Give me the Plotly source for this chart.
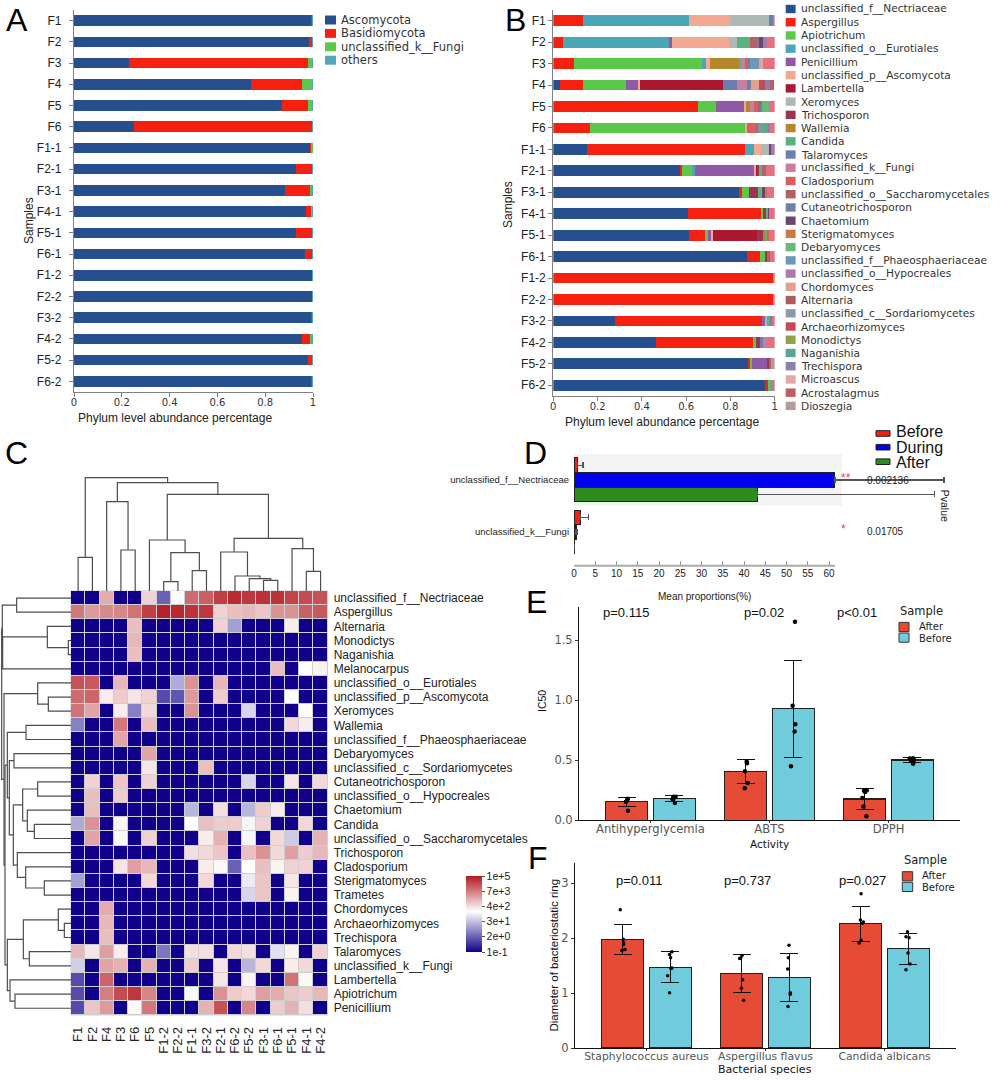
import plotly.graph_objects as go

W, H = 1004, 1080
SANS = "Liberation Sans"
WIDE = "DejaVu Sans"

# ---------- Panels A / B data ----------
SAMPLES = ["F1","F2","F3","F4","F5","F6","F1-1","F2-1","F3-1","F4-1","F5-1","F6-1","F1-2","F2-2","F3-2","F4-2","F5-2","F6-2"]

PHYLUM_NAMES = ["Ascomycota","Basidiomycota","unclassified_k__Fungi","others"]
PHYLUM_COLORS = ["#264f8e","#f5200f","#5ec84c","#4fa8b8"]
ascomycota = [.995,.982,.231,.74,.87,.253,.988,.93,.884,.97,.928,.965,.998,.998,.99,.952,.979,.992]
basidiomycota = [.004,.015,.746,.213,.11,.745,.006,.066,.107,.024,.068,.032,.001,.001,.009,.037,.019,.007]
unclass_fungi = [0,.002,.02,.045,.017,.001,.006,.003,.003,.005,.003,.001,0,0,0,.002,0,0]
phylum_others = [.001,.001,.003,.002,.003,.001,0,.001,.006,.001,.001,.002,.001,.001,.001,.009,.002,.001]
PHYLUM_VALUES = [ascomycota, basidiomycota, unclass_fungi, phylum_others]

GENUS_NAMES = ["unclassified_f__Nectriaceae","Aspergillus","Apiotrichum","unclassified_o__Eurotiales","Penicillium",
    "unclassified_p__Ascomycota","Lambertella","Xeromyces","Trichosporon","Wallemia","Candida","Talaromyces",
    "unclassified_k__Fungi","Cladosporium","unclassified_o__Saccharomycetales","Cutaneotrichosporon","Chaetomium",
    "Sterigmatomyces","Debaryomyces","unclassified_f__Phaeosphaeriaceae","unclassified_o__Hypocreales","Chordomyces",
    "Alternaria","unclassified_c__Sordariomycetes","Archaeorhizomyces","Monodictys","Naganishia","Trechispora",
    "Microascus","Acrostalagmus","Dioszegia"]
GENUS_COLORS = ["#264f8e","#f5200f","#5cc84a","#4ba7b7","#8f5aa5","#f2a98f","#ac1830","#aeb8b4","#9c3350","#b5862c",
    "#5ab27f","#6a7fb0","#c87f9f","#d8605a","#b56068","#6f80a8","#6c4470","#c87a48","#6ab878","#6a9ab8","#ab7aa8",
    "#e49f90","#b05a60","#8a9ab0","#c24a55","#8fa048","#55a896","#8a80b0","#dfa8ac","#be5c60","#b29c98"]
g_nect = [0,0,0,.03,0,0,.151,.577,.842,.608,.615,.875,0,0,.278,.465,.881,.957]
g_asp = [.136,.044,.093,.105,.653,.165,.714,.006,.009,.329,.07,.057,.997,.997,.663,.437,.012,.011]
g_api = [0,0,.577,.192,.082,.704,0,.042,.032,.01,.012,.023,0,0,0,.015,.005,.016]
g_eur = [.477,.479,.02,0,0,0,.04,.015,0,0,0,0,0,0,0,0,0,0]
g_pen = [0,.012,0,.059,.125,0,0,.268,0,0,.018,0,0,0,.018,0,.068,0]
g_pasc = [.185,.26,.018,.005,.012,.006,.035,.006,0,0,.005,0,0,0,0,0,0,0]
g_lam = [0,0,0,.375,0,0,0,.01,0,0,.2,0,0,0,0,0,0,0]
g_xer = [.178,.035,0,0,0,0,.04,0,0,0,0,0,0,0,.006,0,0,0]
g_tri = [0,0,0,0,0,0,0,.006,.043,.015,.033,.015,0,0,0,.015,.014,0]
g_wal = [0,0,.132,0,.015,0,0,0,0,0,.005,0,0,0,0,0,0,0]
g_can = [0,.059,.01,0,0,0,0,.012,.01,.01,.012,0,0,0,.015,0,0,.006]
g_tal = [.02,0,0,.066,0,0,0,0,0,0,0,0,0,0,0,.015,0,0]
g_kfu = [0,0,.02,.045,.018,0,0,0,.012,0,0,0,0,0,0,.018,0,0]
g_cla = [0,0,.005,0,.022,.039,0,0,0,0,.005,0,0,0,0,0,0,0]
g_sac = [0,.035,0,0,.008,.012,0,.018,0,0,0,.008,0,0,0,0,.005,0]
g_cut = [0,.005,.012,.015,.008,0,0,0,0,0,0,0,0,0,.01,0,0,0]
g_cha = [0,.02,0,0,0,0,.004,0,.006,.004,0,0,0,0,0,0,0,0]
g_ste = [0,0,0,0,0,0,0,0,.01,0,0,0,0,0,0,0,0,0]
g_deb = [0,0,0,0,.033,0,0,0,0,0,0,0,0,0,0,0,0,0]
g_pha = [0,0,.042,0,0,.01,0,0,0,0,0,0,0,0,0,0,0,0]
g_hyp = [0,.015,0,0,0,0,.016,0,0,0,0,0,0,0,0,0,0,.006]
g_cho = [0,0,.01,.039,0,0,0,0,0,0,0,0,0,0,0,0,0,0]
g_alt = [0,0,0,0,0,0,0,0,0,0,0,.002,0,0,0,0,0,0]
g_sor = [0,0,0,0,0,0,0,0,0,0,0,0,0,0,.002,0,0,0]
g_arc = [0,0,0,.026,0,0,0,0,0,0,0,0,0,0,0,0,0,0]
g_mon = [0,0,0,0,0,.016,0,0,0,0,0,0,0,0,0,0,0,0]
g_nag = [0,0,0,0,0,.016,0,0,0,0,0,0,0,0,0,0,0,0]
g_tre = [0,0,0,.024,0,.012,0,0,0,0,0,0,0,0,0,0,0,0]
g_mic = [0,0,.01,0,0,0,0,0,0,0,0,0,0,0,0,0,0,0]
g_acr = [0,0,0,.018,0,0,0,0,0,0,0,0,0,0,0,0,0,0]
g_dio = [.002,0,0,0,0,0,0,0,0,0,0,0,0,0,0,0,.015,0]
g_rest = [.004,.036,.051,0,.024,.02,0,.04,.035,.024,.025,.02,.003,.003,.008,.035,0,.004]
REST_COLOR = "#e8707c"
GENUS_VALUES = [g_nect,g_asp,g_api,g_eur,g_pen,g_pasc,g_lam,g_xer,g_tri,g_wal,g_can,g_tal,g_kfu,g_cla,g_sac,g_cut,
    g_cha,g_ste,g_deb,g_pha,g_hyp,g_cho,g_alt,g_sor,g_arc,g_mon,g_nag,g_tre,g_mic,g_acr,g_dio]

# ---------- Panel C data (log10 abundance) ----------
HEAT_COLS = ["F1","F2","F4","F3","F6","F5","F1-2","F2-2","F1-1","F3-2","F2-1","F6-2","F5-2","F3-1","F6-1","F5-1","F4-1","F4-2"]
HEAT_ROWS = ["unclassified_f__Nectriaceae","Aspergillus","Alternaria","Monodictys","Naganishia","Melanocarpus",
    "unclassified_o__Eurotiales","unclassified_p__Ascomycota","Xeromyces","Wallemia","unclassified_f__Phaeosphaeriaceae",
    "Debaryomyces","unclassified_c__Sordariomycetes","Cutaneotrichosporon","unclassified_o__Hypocreales","Chaetomium",
    "Candida","unclassified_o__Saccharomycetales","Trichosporon","Cladosporium","Sterigmatomyces","Trametes",
    "Chordomyces","Archaeorhizomyces","Trechispora","Talaromyces","unclassified_k__Fungi","Lambertella","Apiotrichum","Penicillium"]
L = -1.0
HEAT_Z = [
 [L,L,3.21,L,L,2.74,.2,2.13,3.99,4.14,4.53,4.77,4.61,4.69,4.69,4.46,4.38,4.3],
 [3.83,3.44,3.6,3.68,3.91,4.53,4.88,4.8,4.69,4.61,2.74,2.98,3.06,2.9,3.52,3.52,4.14,4.22],
 [L,L,L,L,2.98,L,L,L,L,L,2.74,1.0,L,L,L,2.43,L,L],
 [L,L,L,L,3.06,L,L,L,L,L,L,L,L,L,L,L,L,L],
 [L,L,L,L,2.98,L,L,L,L,L,L,L,L,L,L,L,L,L],
 [L,L,L,L,L,L,L,L,L,L,L,L,L,L,2.98,L,2.2,2.36],
 [4.3,4.22,L,3.06,L,L,L,1.13,3.52,L,3.06,L,L,L,L,L,L,L],
 [3.99,4.07,2.43,2.82,2.51,2.74,-.07,.07,3.44,L,2.82,L,L,L,L,2.2,L,L],
 [3.91,3.29,L,2.43,.6,2.67,L,L,3.52,L,L,L,1.67,L,L,L,2.24,L],
 [.6,L,L,3.83,L,2.98,L,L,L,L,L,L,L,L,L,2.67,2.43,L],
 [L,L,L,3.29,L,L,L,L,L,L,L,L,L,L,L,L,L,L],
 [L,L,L,L,L,3.29,L,L,L,L,L,L,L,L,L,L,L,L],
 [L,L,L,L,L,2.51,L,L,L,2.98,L,L,L,L,L,L,L,L],
 [L,2.74,L,2.9,L,2.74,L,L,L,L,L,L,1.67,L,L,2.51,L,2.67],
 [L,2.98,L,2.82,L,L,L,L,L,L,L,L,L,L,L,L,L,L],
 [L,2.98,L,L,L,L,L,L,1.27,L,2.59,L,1.27,2.82,2.43,L,L,L],
 [1.13,3.52,L,2.36,L,L,L,L,2.2,2.98,2.82,2.82,2.07,2.74,L,L,2.67,L],
 [L,3.29,L,2.28,L,2.74,L,L,L,2.43,3.13,L,2.07,L,2.67,1.53,L,3.13],
 [L,L,L,L,L,L,L,L,2.59,2.67,2.9,L,2.98,3.52,2.67,3.37,2.82,3.06],
 [L,L,L,2.51,3.37,3.06,L,L,L,2.43,2.28,.2,2.2,2.98,2.36,2.74,2.74,L],
 [1.0,L,L,L,L,2.67,L,L,L,2.67,L,L,1.93,2.9,L,2.51,L,L],
 [L,L,L,L,L,L,L,L,L,L,L,L,1.67,2.9,L,2.36,L,L],
 [L,L,3.21,L,L,L,L,L,L,L,L,L,L,L,L,L,L,L],
 [L,L,3.06,L,L,L,L,L,L,L,L,L,L,L,L,L,L,L],
 [L,L,2.98,L,L,L,L,L,L,L,L,L,L,L,L,L,L,L],
 [3.06,2.51,3.37,2.43,L,L,.47,L,2.59,2.59,L,2.67,2.59,L,1.8,2.36,L,2.74],
 [1.6,L,3.29,3.13,L,3.13,L,L,2.82,L,2.51,L,1.27,2.67,L,2.43,2.67,L],
 [-.07,L,4.07,L,L,L,L,L,L,L,2.51,L,2.36,L,L,3.91,2.28,L],
 [-.07,L,3.76,4.38,4.61,3.68,L,L,2.28,L,3.52,2.82,2.67,3.37,3.21,2.9,2.82,3.06],
 [-.07,2.9,3.44,L,2.28,3.83,L,L,L,3.13,4.3,L,3.68,L,2.82,3.13,2.59,L],
]
CBAR_TICKS = [5,3.8,2.6,1.4,.2,-1]
CBAR_TEXT = ["1e+5","7e+3","4e+2","3e+1","2e+0","1e-1"]

# dendrograms: nested [left, right, merge height]
col_tree = [[0,1,101],[[2,[3,4,123],268],[[5,[[6,7,28],[8,9,61],115],153],
            [[10,[11,[12,[13,14,32],37],45],117],[15,[16,17,59],127],158],290],325],340]
row_a = [[0,1,163],[[2,[3,4,8],71],5,205],206]
row_b = [6,[7,8,68],100]
row_c = [[9,10,135],[[11,12,171],[[[13,14,100],[15,[16,17,110],131],145],[18,[19,[20,21,80],136],161],173],185],191]
row_d = [[[22,[23,24,20],38],[25,26,125],143],[27,[28,29,168],183],191]
row_tree = [row_a,[row_b,[row_c,row_d,198],201],208]

# ---------- Panel D data ----------
D_CATS = ["unclassified_f__Nectriaceae","unclassified_k__Fungi"]
D_GROUPS = ["Before","During","After"]
D_COLORS = ["#f5200f","#0000ee","#2e8b1e"]
d_before = [.8,1.5]; d_before_err = [1.3,1.9]
d_during = [61.3,.5]; d_during_err = [25.7,.3]
d_after = [43.1,.05]; d_after_err = [41.8,0]
D_PVALUES = ["0.002136","0.01705"]
D_STARS = ["**","*"]
D_TICKS = [0,5,10,15,20,25,30,35,40,45,50,55,60]

# ---------- Panels E / F data ----------
SAMPLE_NAMES = ["After","Before"]
SAMPLE_COLORS = ["#e64b35","#70cbdc"]
E_CATS = ["Antihyperglycemia","ABTS","DPPH"]
E_P = ["p=0.115","p=0.02","p<0.01"]
e_after = [.155,.408,.178]; e_after_lo = [.114,.308,.092]; e_after_hi = [.19,.505,.267]
e_before = [.183,.93,.503]; e_before_lo = [.16,.525,.483]; e_before_hi = [.208,1.33,.522]
e_after_pts = [[.08,.155,.175,.165,.18],[.267,.31,.408,.475,.49],[.033,.114,.186,.236,.247,.25]]
e_after_jit = [[.011,-.006,.006,.003,.009],[-.008,.017,-.006,.011,.008],[.014,-.011,-.02,.003,-.006,.017]]
e_before_pts = [[.145,.175,.19,.197,.197],[.45,.74,.80,.955,1.655],[.472,.497,.503,.514,.517]]
e_before_jit = [[.006,-.014,0,-.008,.011],[-.02,.011,.017,-.006,.014],[.006,-.011,.014,-.022,.006]]

F_CATS = ["Staphylococcus aureus","Aspergillus flavus","Candida albicans"]
F_P = ["p=0.011","p=0.737","p=0.027"]
f_after = [1.975,1.36,2.26]; f_after_lo = [1.70,1.01,1.94]; f_after_hi = [2.25,1.70,2.58]
f_before = [1.47,1.285,1.81]; f_before_lo = [1.19,.85,1.52]; f_before_hi = [1.76,1.715,2.09]
f_after_pts = [[2.515,1.98,1.915,1.885,1.775,1.79],[.867,1.085,1.24,1.63,1.635,1.685],[1.91,1.96,2.27,2.29,2.33,2.806]]
f_after_jit = [[-.02,.006,.008,.008,-.006,.02],[.017,-.003,.008,-.017,-.008,.003],[-.014,.003,.014,.022,-.003,.003]]
f_before_pts = [[1.006,1.315,1.45,1.455,1.64,1.70,1.75],[.757,.98,1.006,1.436,1.64,1.867],[1.424,1.527,1.727,2.006,2.024,2.115]]
f_before_jit = [[-.006,-.022,.006,.014,.003,-.006,.014],[-.011,.008,.008,-.014,-.008,-.003],[-.02,.014,-.003,.006,-.02,-.008]]

# ---------- helpers ----------
def dom_x(a, b): return [a / W, b / W]
def dom_y(top, bot): return [1 - bot / H, 1 - top / H]

annos, shapes = [], []
def note(text, px, py, size=12, color="#222", family=SANS, anchor="left", angle=0):
    annos.append(dict(text=text, x=px / W, y=1 - py / H, xref="paper", yref="paper", showarrow=False,
        xanchor=anchor, yanchor="middle", textangle=angle, font=dict(size=size, color=color, family=family)))
def swatch(x0, x1, y0, y1, color, line=None, lw=0, layer="above"):
    shapes.append(dict(type="rect", xref="paper", yref="paper", x0=x0 / W, x1=x1 / W, y0=1 - y1 / H, y1=1 - y0 / H,
        fillcolor=color, line=dict(color=line or color, width=lw), layer=layer))

def walk(node, segs):
    """Return (position, height) of a tree node and collect its elbow segments."""
    if isinstance(node, int):
        return float(node), 0.0
    pa, ha = walk(node[0], segs)
    pb, hb = walk(node[1], segs)
    h = node[2]
    segs.append(((pa, ha), (pa, h), (pb, h), (pb, hb)))
    return (pa + pb) / 2, h

def tree_xy(tree, flip=False):
    segs = []
    walk(tree, segs)
    xs, ys = [], []
    for s in segs:
        for p, h in s:
            xs.append(h if flip else p)
            ys.append(p if flip else h)
        xs.append(None); ys.append(None)
    return xs, ys

fig = go.Figure()
AXIS_GREY = "#808080"
TICK = dict(color="#333", family=WIDE, size=10)

# ---------- A ----------
for name, vals, col in zip(PHYLUM_NAMES, PHYLUM_VALUES, PHYLUM_COLORS):
    fig.add_bar(x=vals, y=SAMPLES, orientation="h", width=.5, name=name, marker=dict(color=col, line_width=0),
                xaxis="x", yaxis="y", showlegend=False)
# ---------- B ----------
for name, vals, col in zip(GENUS_NAMES + ["others"], GENUS_VALUES + [g_rest], GENUS_COLORS + [REST_COLOR]):
    fig.add_bar(x=vals, y=SAMPLES, orientation="h", width=.5, name=name, marker=dict(color=col, line_width=0),
                xaxis="x2", yaxis="y2", showlegend=False)

# legends A, B
for i, (name, col) in enumerate(zip(PHYLUM_NAMES, PHYLUM_COLORS)):
    y = 20 + 13.4 * i
    swatch(325, 336, y - 4.5, y + 4.5, col)
    note(name, 338.7, y, size=11.5, family=WIDE, color="#333")
for i, (name, col) in enumerate(zip(GENUS_NAMES, GENUS_COLORS)):
    y = 9 + 13.23 * i
    swatch(785.7, 795.6, y - 4.2, y + 4.2, col)
    note(name, 799.3, y, size=10.6, family=WIDE, color="#333")

note("Samples", 29, 221, size=12, angle=-90, anchor="center")
note("Phylum level abundance percentage", 175, 418, size=12, anchor="center")
note("Samples", 508, 205, size=12, angle=-90, anchor="center")
note("Phylum level abundance percentage", 662, 421.7, size=12, anchor="center")

# ---------- C ----------
swatch(70.5, 328, 590.5, 1015.5, "#cfcfcf", layer="below")
fig.add_heatmap(z=HEAT_Z, x=HEAT_COLS, y=HEAT_ROWS, xaxis="x3", yaxis="y3", xgap=1, ygap=1, zmin=-1, zmax=5,
    colorscale=[[0, "#10008a"], [.533, "#ffffff"], [1, "#b2181f"]],
    colorbar=dict(x=466 / W, xanchor="left", y=1 - 914 / H, yanchor="middle", lenmode="pixels", len=76,
                  thicknessmode="pixels", thickness=16, outlinewidth=0, tickmode="array", tickvals=CBAR_TICKS,
                  ticktext=CBAR_TEXT, ticks="outside", ticklen=3, tickcolor="#555", xpad=0, ypad=0,
                  tickfont=dict(size=10.5, family=SANS, color="#222")))
cx, cy = tree_xy(col_tree)
fig.add_scatter(x=cx, y=cy, mode="lines", line=dict(color="#4d4d4d", width=1.2), xaxis="x4", yaxis="y4",
                showlegend=False, hoverinfo="skip")
rx, ry = tree_xy(row_tree, flip=True)
fig.add_scatter(x=rx, y=ry, mode="lines", line=dict(color="#4d4d4d", width=1.2), xaxis="x5", yaxis="y5",
                showlegend=False, hoverinfo="skip")

# ---------- D ----------
swatch(574, 842, 454, 505.7, "#f3f3f3", layer="below")
shapes.append(dict(type="line", xref="paper", yref="paper", x0=574 / W, x1=835 / W, y0=1 - 565.7 / H, y1=1 - 565.7 / H,
                   line=dict(color="#aaa", width=2)))
D_SETS = [(d_before, d_before_err, -.28, 1.2), (d_during, d_during_err, 0.0, 2), (d_after, d_after_err, .28, 1.2)]
for name, col, (vals, errs, off, thick) in zip(D_GROUPS, D_COLORS, D_SETS):
    fig.add_bar(x=vals, y=[i + off for i in range(len(D_CATS))], orientation="h", width=.28, name=name,
        marker=dict(color=col, line=dict(color="#222", width=1)),
        error_x=dict(type="data", array=errs, symmetric=False, arrayminus=[0] * len(errs), color="#555", thickness=thick, width=3),
        xaxis="x6", yaxis="y6", showlegend=False)
for i, (name, col) in enumerate(zip(D_GROUPS, D_COLORS)):
    yc = [433.5, 447.2, 461.7][i]
    swatch(876, 890, yc - 2.8, yc + 2.8, col, "#222", 1)
    note(name, 893.5, [431.7, 447.7, 462.7][i], size=16, color="#111")
note(D_PVALUES[0], 865, 480.7, size=10, color="#222")
note(D_PVALUES[1], 865, 531.7, size=10, color="#222")
note(D_STARS[0], 846, 478, size=12, color="#e8455a", anchor="center")
note(D_STARS[1], 843.6, 529, size=12, color="#e8455a", anchor="center")
note("Pvalue", 945, 505.7, size=10.5, angle=90, anchor="center")
note("Mean proportions(%)", 704, 596.7, size=10, anchor="center")

# ---------- E / F ----------
def paired(cats, after, a_lo, a_hi, before, b_lo, b_hi, a_pts, a_jit, b_pts, b_jit, ax, ay, msize):
    rows = [(after, a_lo, a_hi, a_pts, a_jit, -.2, SAMPLE_NAMES[0], SAMPLE_COLORS[0]),
            (before, b_lo, b_hi, b_pts, b_jit, .2, SAMPLE_NAMES[1], SAMPLE_COLORS[1])]
    for vals, lo, hi, pts, jit, off, name, col in rows:
        fig.add_bar(x=[i + off for i in range(len(cats))], y=vals, width=.352, name=name,
            marker=dict(color=col, line=dict(color="#222", width=1.3)),
            error_y=dict(type="data", symmetric=False, array=[h - v for h, v in zip(hi, vals)],
                         arrayminus=[v - l for l, v in zip(lo, vals)], color="#111", thickness=1.2, width=9),
            xaxis=ax, yaxis=ay, showlegend=False)
        xs, ys = [], []
        for i, (p, j) in enumerate(zip(pts, jit)):
            xs += [i + off + d for d in j]
            ys += p
        fig.add_scatter(x=xs, y=ys, mode="markers", marker=dict(color="#000", size=msize), xaxis=ax, yaxis=ay,
                        showlegend=False, name=name, cliponaxis=False)

paired(E_CATS, e_after, e_after_lo, e_after_hi, e_before, e_before_lo, e_before_hi,
       e_after_pts, e_after_jit, e_before_pts, e_before_jit, "x7", "y7", 4.5)
paired(F_CATS, f_after, f_after_lo, f_after_hi, f_before, f_before_lo, f_before_hi,
       f_after_pts, f_after_jit, f_before_pts, f_before_jit, "x8", "y8", 3.5)

for text, px in zip(E_P, [625.7, 764.3, 857.3]):
    note(text, px, 612.7, size=13, anchor="center", color="#111")
for text, px in zip(F_P, [639.3, 747.3, 862.3]):
    note(text, px, 880, size=13, anchor="center", color="#111")
note("IC50", 542, 701, size=10.5, angle=-90, anchor="center", color="#111")
note("Activity", 769, 844, size=10.5, family=WIDE, anchor="center", color="#111")
note("Bacterial species", 765, 1069, size=11, family=WIDE, anchor="center", color="#111")
note("Diameter of bacteriostatic ring", 554, 955.6, size=11.5, angle=-90, anchor="center", color="#111")

note("Sample", 897.7, 611, size=11.5, family=WIDE, color="#222")
for i, (name, col) in enumerate(zip(SAMPLE_NAMES, SAMPLE_COLORS)):
    y = 627 + 10.6 * i
    swatch(899, 909, y - 4.6, y + 4.6, col, "#333", 1)
    note(name, 916.7, y - .8 + 1.6 * i, size=10, family=WIDE, color="#222")
note("Sample", 901.7, 860, size=11.5, family=WIDE, color="#222")
for i, (name, col) in enumerate(zip(SAMPLE_NAMES, SAMPLE_COLORS)):
    y = 876.3 + 10.6 * i
    swatch(902.3, 912.7, y - 4.6, y + 4.6, col, "#333", 1)
    note(name, 920, y - .8 + 1.6 * i, size=10, family=WIDE, color="#222")

# panel letters
for ch, px, py in [("A", 4, 20), ("B", 503, 20), ("C", 3, 453), ("D", 522, 453), ("E", 524, 602), ("F", 526, 858)]:
    note(ch, px, py, size=32, color="#000")

# ---------- axes ----------
BAR_Y = dict(type="category", categoryorder="array", categoryarray=SAMPLES, range=[17.5, -.5], showline=True,
             linecolor=AXIS_GREY, linewidth=1.2, ticks="outside", ticklen=4, tickcolor=AXIS_GREY,
             tickmode="array", tickvals=SAMPLES,
             tickfont=dict(size=12, family=SANS, color="#222"), showgrid=False, zeroline=False)
BAR_X = dict(range=[0, 1], tickvals=[0, .2, .4, .6, .8, 1], ticktext=["0", "0.2", "0.4", "0.6", "0.8", "1"],
             showline=True, linecolor=AXIS_GREY, linewidth=1.2, ticks="outside", ticklen=4, tickcolor=AXIS_GREY,
             ticklabelstandoff=-3, tickfont=TICK, showgrid=False, zeroline=False)
HIDE = dict(visible=False, showgrid=False, zeroline=False)
PAIR_X = dict(range=[-.6, 2.6], tickvals=[0, 1, 2], tickangle=0, showline=True, linecolor="#111", linewidth=1, ticks="outside",
              ticklen=2, tickcolor="#333", ticklabelstandoff=-4, showgrid=False, zeroline=False)
PAIR_Y = dict(showline=True, linecolor="#111", linewidth=1, ticks="outside", ticklen=3, tickcolor="#333",
              showgrid=False, zeroline=False, tickfont=dict(size=11.5, family=WIDE, color="#555"))

fig.update_layout(
    width=W, height=H, margin=dict(l=0, r=0, t=0, b=0, autoexpand=False), paper_bgcolor="white", plot_bgcolor="rgba(0,0,0,0)",
    barmode="stack", showlegend=False, annotations=annos, shapes=shapes, font=dict(family=SANS),
    xaxis=dict(BAR_X, domain=dom_x(74, 313), anchor="y"),
    yaxis=dict(BAR_Y, domain=dom_y(10, 392), anchor="x", ticklabelstandoff=5),
    xaxis2=dict(BAR_X, domain=dom_x(553.3, 774.7), anchor="y2"),
    yaxis2=dict(BAR_Y, domain=dom_y(10, 396), anchor="x2"),
    xaxis3=dict(domain=dom_x(71, 327.7), anchor="y3", type="category", categoryorder="array", categoryarray=HEAT_COLS,
                range=[-.5, 17.5], tickmode="array", tickvals=HEAT_COLS, tickangle=-90, ticks="", ticklabelstandoff=8,
                showgrid=False, zeroline=False, tickfont=dict(size=13, family=SANS, color="#222")),
    yaxis3=dict(domain=dom_y(591, 1015.3), anchor="x3", side="right", type="category", categoryorder="array",
                categoryarray=HEAT_ROWS, range=[29.5, -.5], tickmode="array", tickvals=HEAT_ROWS, ticks="", ticklabelstandoff=5,
                showgrid=False, zeroline=False, tickfont=dict(size=12, family=SANS, color="#222")),
    xaxis4=dict(HIDE, domain=dom_x(71, 327.7), anchor="y4", range=[-.5, 17.5]),
    yaxis4=dict(HIDE, domain=dom_y(477, 591), anchor="x4", range=[0, 342]),
    xaxis5=dict(HIDE, domain=dom_x(0, 71), anchor="y5", range=[213, 0]),
    yaxis5=dict(HIDE, domain=dom_y(591, 1015.3), anchor="x5", range=[29.5, -.5]),
    xaxis6=dict(domain=dom_x(574, 965), anchor="y6", range=[0, 92], tickvals=D_TICKS, ticks="inside",
                ticklen=5, tickcolor="#999", showline=False, showgrid=False, zeroline=False,
                tickfont=dict(size=10, family=SANS, color="#222")),
    yaxis6=dict(domain=dom_y(454, 565.7), anchor="x6", range=[1.646, -.494], tickvals=[0, 1], ticktext=D_CATS, ticks="",
                ticklabelstandoff=4, showline=False, showgrid=False, zeroline=False,
                tickfont=dict(size=9.5, family=SANS, color="#222")),
    xaxis7=dict(PAIR_X, domain=dom_x(579, 960), anchor="y7", ticktext=E_CATS,
                tickfont=dict(size=11.6, family=WIDE, color="#555")),
    yaxis7=dict(PAIR_Y, domain=dom_y(606.7, 820.3), anchor="x7", range=[0, 1.78], tickvals=[0, .5, 1, 1.5],
                ticktext=["0.0", "0.5", "1.0", "1.5"]),
    xaxis8=dict(PAIR_X, domain=dom_x(575, 956), anchor="y8", ticktext=F_CATS,
                tickfont=dict(size=10.8, family=WIDE, color="#555")),
    yaxis8=dict(PAIR_Y, domain=dom_y(863.3, 1048), anchor="x8", range=[0, 3.36], tickvals=[0, 1, 2, 3]),
)

fig.write_html("out.html", config=dict(displayModeBar=False),
    post_script="document.documentElement.style.margin='0';document.documentElement.style.overflow='hidden';document.body.style.margin='0';document.body.style.padding='0';document.body.style.overflow='hidden';")
